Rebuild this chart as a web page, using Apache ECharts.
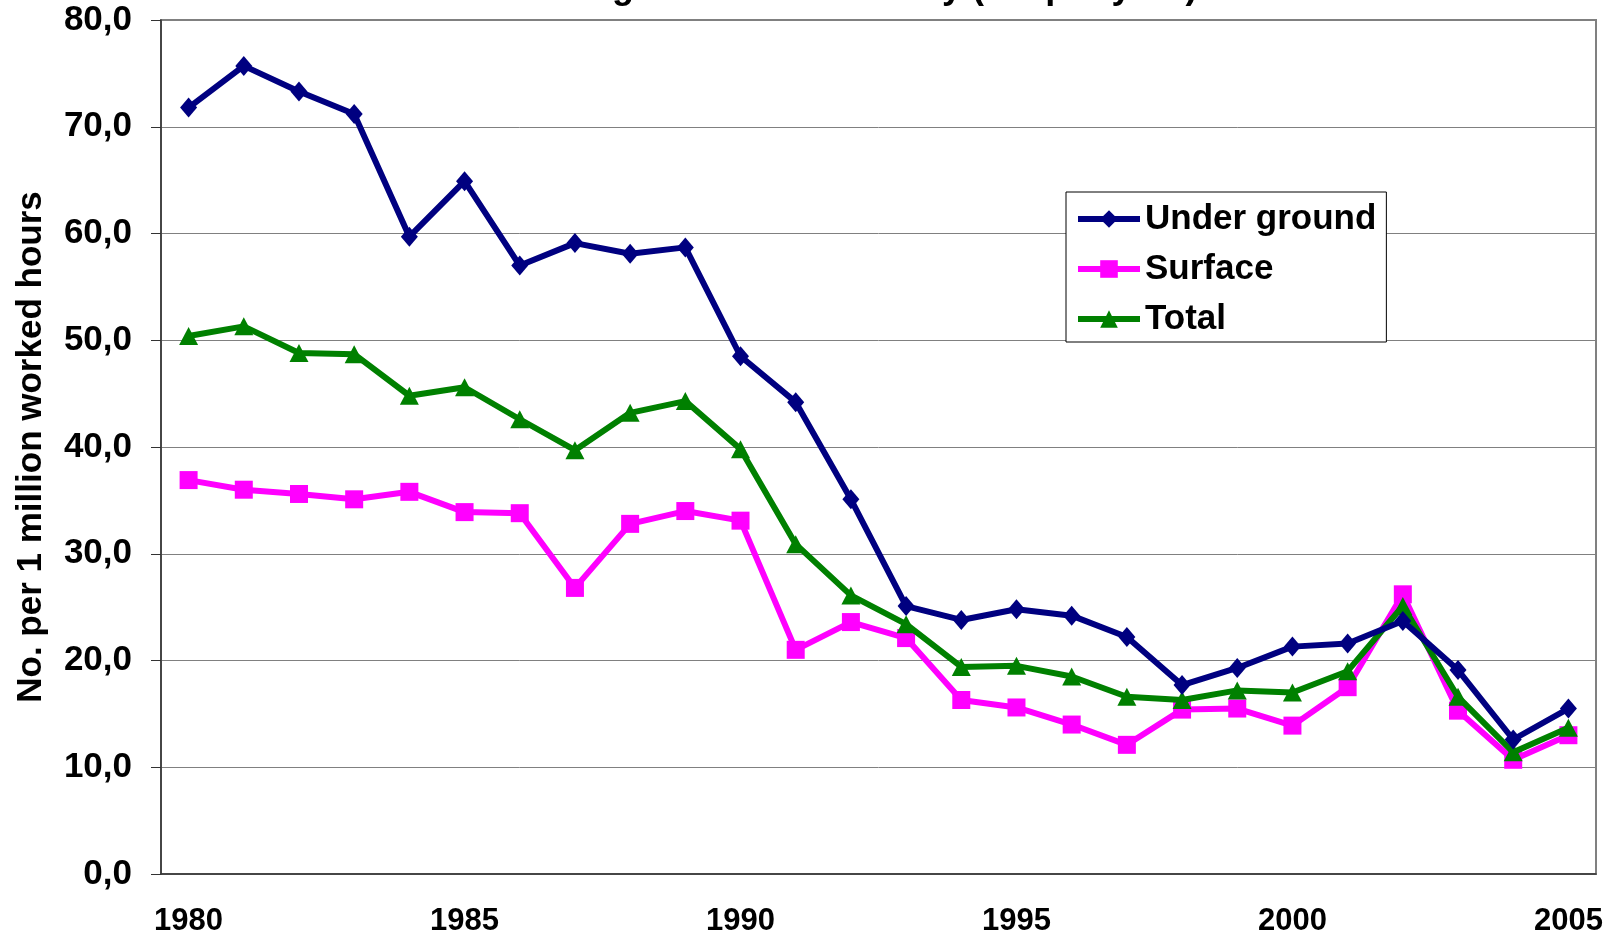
<!DOCTYPE html>
<html>
<head>
<meta charset="utf-8">
<script src="https://cdn.jsdelivr.net/npm/echarts@6/dist/echarts.min.js"></script>
<style>
  html, body { margin: 0; padding: 0; background: #fff; }
  #myChart { width: 1615px; height: 937px; }
</style>
</head>
<body>
<div id="myChart"></div>
<script>
  // years on x axis
  var years = ['1980', '1981', '1982', '1983', '1984', '1985', '1986', '1987', '1988', '1989',
    '1990', '1991', '1992', '1993', '1994', '1995', '1996', '1997', '1998', '1999',
    '2000', '2001', '2002', '2003', '2004', '2005'];

  var underGround = [71.8, 75.7, 73.3, 71.2, 59.7, 64.9, 57.0, 59.1, 58.1, 58.7,
    48.5, 44.2, 35.1, 25.1, 23.8, 24.8, 24.2, 22.2, 17.7, 19.3,
    21.3, 21.6, 23.7, 19.1, 12.6, 15.5];

  var surface = [36.9, 36.0, 35.6, 35.1, 35.8, 33.9, 33.8, 26.8, 32.8, 34.0,
    33.1, 21.0, 23.6, 22.1, 16.3, 15.6, 14.0, 12.1, 15.4, 15.5,
    13.9, 17.5, 26.2, 15.3, 10.7, 13.0];

  var total = [50.4, 51.3, 48.8, 48.7, 44.8, 45.6, 42.6, 39.7, 43.2, 44.3,
    39.8, 30.9, 26.1, 23.4, 19.4, 19.5, 18.5, 16.6, 16.3, 17.2,
    17.0, 19.0, 25.1, 16.6, 11.4, 13.7];

  var font = 'Liberation Sans, Arial, sans-serif';

  let myChart = echarts.init(document.getElementById('myChart'));

  myChart.setOption({
    animation: false,
    title: {
      text: 'Accidents in Mining and Metal Industry (LTI per year)',
      left: 294,
      top: -30,
      padding: 0,
      textStyle: { fontFamily: font, fontWeight: 'bold', fontSize: 36, color: '#000' }
    },
    grid: {
      left: 161,
      right: 19,
      top: 20,
      bottom: 62,
      show: true,
      borderColor: '#808080',
      borderWidth: 2
    },
    legend: {
      data: ['Under ground', 'Surface', 'Total'],
      orient: 'vertical',
      left: 1066,
      top: 192,
      padding: [7, 10, 3, 9],
      itemWidth: 62,
      itemHeight: 22,
      itemGap: 10,
      backgroundColor: '#fff',
      borderColor: '#000',
      borderWidth: 1,
      lineStyle: { width: 6 },
      textStyle: {
        fontFamily: font,
        fontWeight: 'bold',
        fontSize: 35,
        lineHeight: 40,
        color: '#000'
      }
    },
    xAxis: {
      type: 'category',
      data: years,
      boundaryGap: true,
      axisLine: { lineStyle: { color: '#333', width: 1.5 } },
      axisTick: { interval: 0, length: 10, lineStyle: { color: '#333' } },
      axisLabel: {
        interval: 4,
        margin: 32,
        fontFamily: font,
        fontWeight: 'bold',
        fontSize: 31,
        color: '#000'
      },
      splitLine: { show: false }
    },
    yAxis: {
      type: 'value',
      min: 0,
      max: 80,
      interval: 10,
      name: 'No. per 1 million worked hours',
      nameLocation: 'middle',
      nameGap: 112,
      nameTextStyle: {
        fontFamily: font,
        fontWeight: 'bold',
        fontSize: 35,
        color: '#000'
      },
      axisLine: { show: true, lineStyle: { color: '#333', width: 1.5 } },
      axisTick: { show: true, length: 10, lineStyle: { color: '#333' } },
      axisLabel: {
        margin: 29,
        fontFamily: font,
        fontWeight: 'bold',
        fontSize: 35,
        color: '#000',
        formatter: function (v) {
          return v.toFixed(1).replace('.', ',');
        }
      },
      splitLine: { lineStyle: { color: '#808080', width: 1 } }
    },
    series: [{
        name: 'Under ground',
        type: 'line',
        data: underGround,
        symbol: 'diamond',
        symbolSize: [17, 20],
        itemStyle: { color: '#000080' },
        lineStyle: { color: '#000080', width: 6 },
        z: 4
      },
      {
        name: 'Surface',
        type: 'line',
        data: surface,
        symbol: 'rect',
        symbolSize: 18,
        itemStyle: { color: '#ff00ff' },
        lineStyle: { color: '#ff00ff', width: 6 },
        z: 2
      },
      {
        name: 'Total',
        type: 'line',
        data: total,
        symbol: 'triangle',
        symbolSize: [19, 18],
        itemStyle: { color: '#008000' },
        lineStyle: { color: '#008000', width: 6 },
        z: 3
      }
    ]
  });
</script>
</body>
</html>
